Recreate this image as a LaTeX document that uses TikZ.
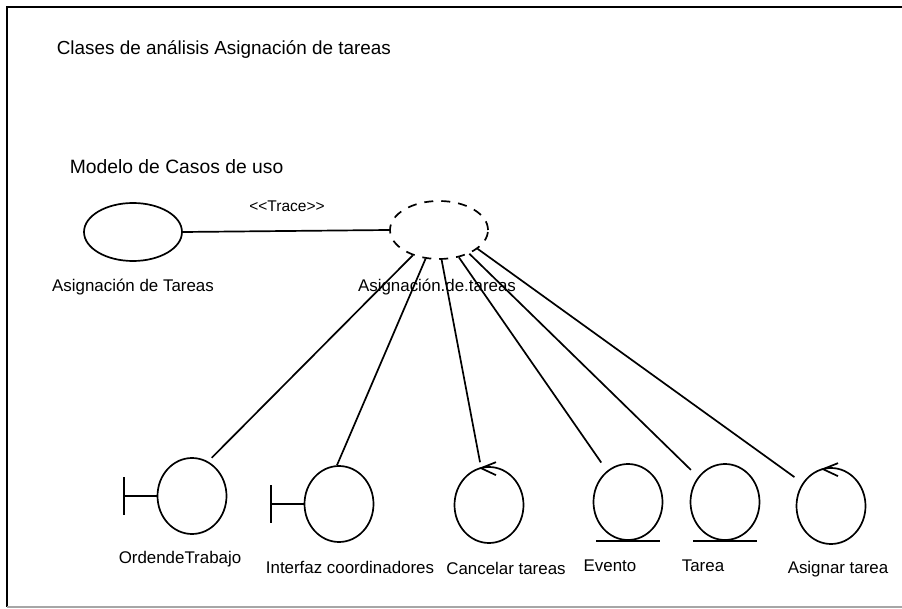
\documentclass[tikz,border=0pt]{standalone}
\usepackage{fontspec}
\setmainfont{Liberation Sans}
\usetikzlibrary{shapes.geometric,calc}
\begin{document}
\begin{tikzpicture}[x=1pt,y=-1pt,line width=1.7pt,
  lbl/.style={inner sep=0pt,font=\fontsize{16.9}{20}\selectfont},
  usecase/.style={draw,ellipse,minimum width=98pt,minimum height=58pt,inner sep=0pt},
  realized/.style={usecase,dash pattern=on 9pt off 8pt},
  analysis/.style={draw,ellipse,minimum width=69pt,minimum height=76pt,inner sep=0pt},
  frameline/.style={line width=2.2pt},
  baseline/.style={draw=black!35,line width=1.5pt}]
\useasboundingbox (0,0) rectangle (902,609);
\fill[white] (0,0) rectangle (902,609);

% outer frame
\draw[frameline] (902,7) -- (7,7) -- (7,607);
\draw[baseline] (7,607) -- (902,607);

% headings
\node[lbl,anchor=west,font=\fontsize{18.9}{22}\selectfont] (title) at (56,50) {Clases de análisis Asignación de tareas};
\node[lbl,anchor=west,font=\fontsize{19.3}{22}\selectfont] (model) at (69,167) {Modelo de Casos de uso};

% use case and its realization
\node[usecase] (uc) at (133,232) {};
\node[lbl] (ucl) at (133,287) {Asignación de Tareas};
\node[realized] (an) at (439,230) {};
\node[lbl] (anl) at (437,287) {Asignación.de.tareas};
\draw (uc.east) -- (an.west);
\node[lbl,font=\fontsize{15.5}{18}\selectfont] (tr) at (287,206) {\mbox{<}\mbox{<}Trace\mbox{>}\mbox{>}};

% analysis classes
\node[analysis] (c1) at (192,496) {};
\node[analysis] (c2) at (339,504) {};
\node[analysis] (c3) at (489,505) {};
\node[analysis] (c4) at (628,502) {};
\node[analysis] (c5) at (725,502) {};
\node[analysis] (c6) at (831,506) {};

% boundary markers
\foreach \c in {c1,c2}{
  \draw ($(\c.west)+(-33,-19)$) -- ($(\c.west)+(-33,19)$);
  \draw ($(\c.west)+(-33,0)$) -- (\c.west);
}
% entity markers
\foreach \c in {c4,c5}{
  \draw ($(\c.south)+(-32,0)$) -- ($(\c.south)+(32,0)$);
}
% control markers
\foreach \c in {c3,c6}{
  \draw ($(\c.north)+(7,-4)$) -- ($(\c.north)+(-8,2)$) -- ($(\c.north)+(7,9)$);
}

% class labels
\node[lbl] (l1) at (180,559) {OrdendeTrabajo};
\node[lbl] (l2) at (350,567) {Interfaz coordinadores};
\node[lbl] (l3) at (506,568) {Cancelar tareas};
\node[lbl] (l4) at (610,566) {Evento};
\node[lbl] (l5) at (703,566) {Tarea};
\node[lbl] (l6) at (838,569) {Asignar tarea};

% participation links
\draw[shorten >=5pt] (an.224) -- (c1.65);
\draw (an.245) -- (c2.93);
\draw[shorten >=5pt] (an.275) -- (c3.102);
\draw[shorten >=10pt] (an.306) -- (c4.124);
\draw[shorten >=10pt] (an.322) -- (c5.137);
\draw[shorten >=10pt] (an.334) -- (c6.141);
\end{tikzpicture}
\end{document}
